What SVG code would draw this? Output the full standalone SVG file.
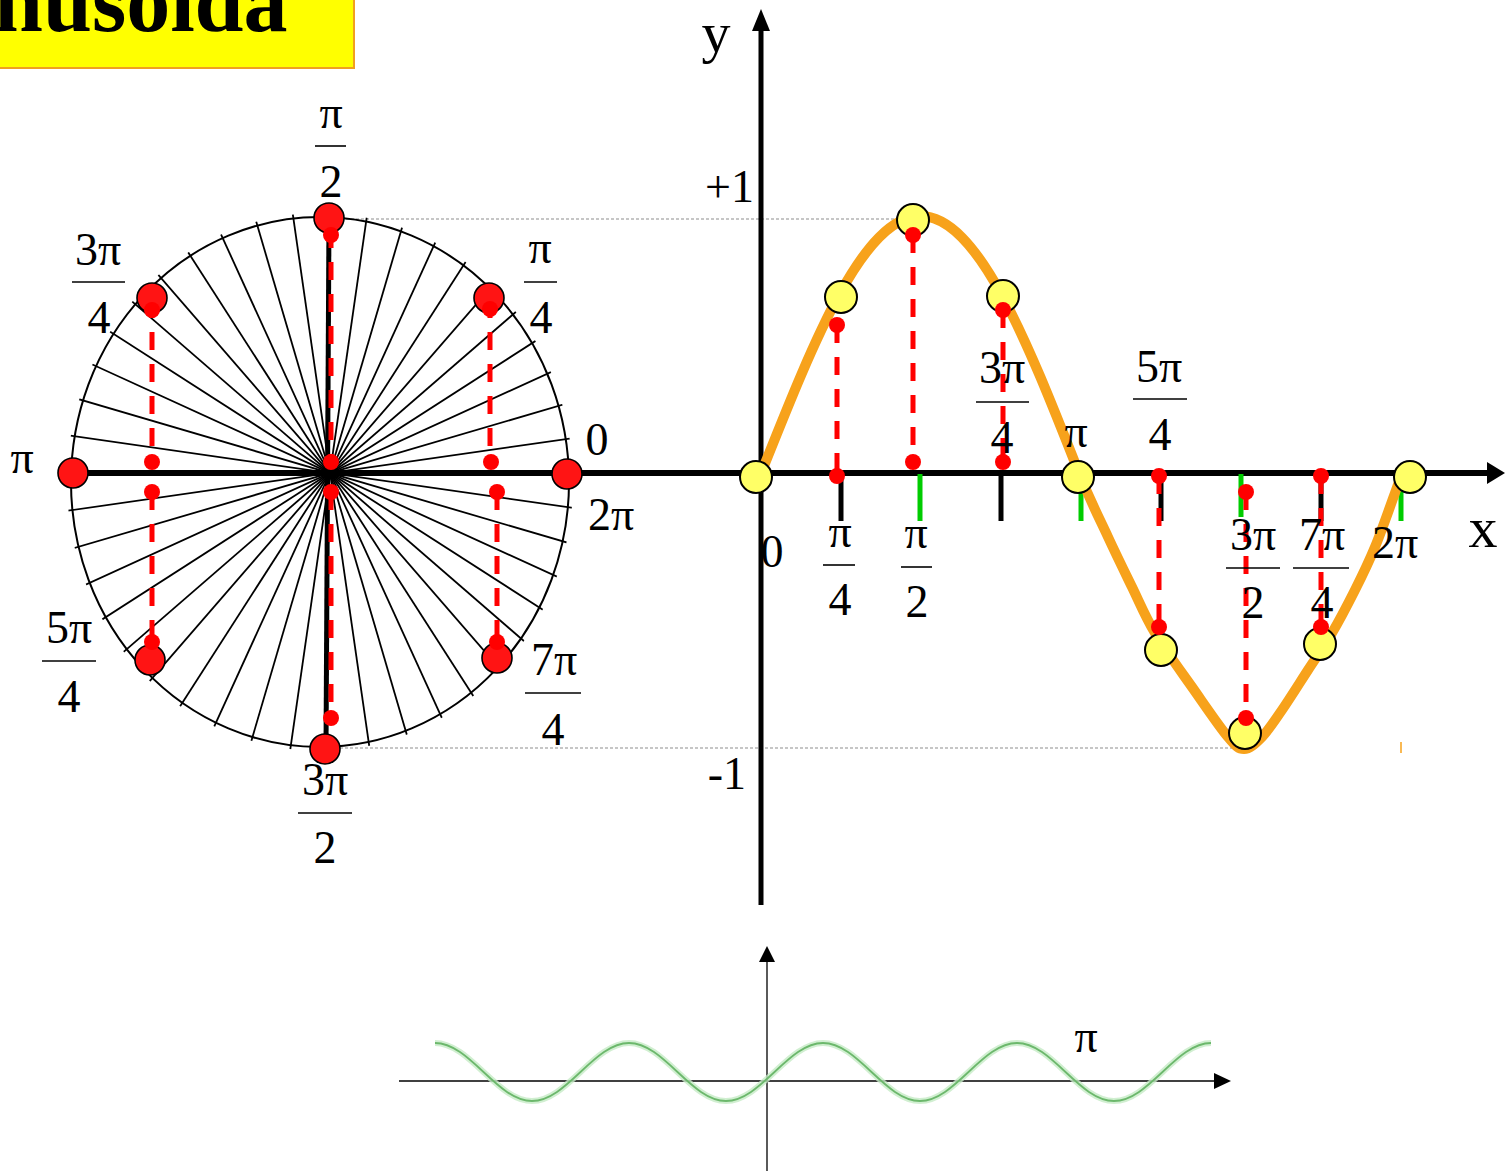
<svg xmlns="http://www.w3.org/2000/svg" width="1505" height="1171" viewBox="0 0 1505 1171">
<defs>
<style>
.t{font-family:"Liberation Serif","Times New Roman",serif;font-size:46px;fill:#000;text-anchor:middle}
.fl{stroke:#000;stroke-width:1.6}
.ray{stroke:#000;stroke-width:1.8}
.ax{stroke:#000;stroke-width:6;fill:none}
.rd{stroke:#ff0000;stroke-width:5;stroke-dasharray:18 14;fill:none}
.big{fill:#ff1414;stroke:#000;stroke-width:1.6}
.sm{fill:#ff0000}
.yd{fill:#ffff66;stroke:#000;stroke-width:2}
.gd{stroke:#b4b4b4;stroke-width:1.5;stroke-dasharray:3 2}
.tk{stroke:#000;stroke-width:5}
.tg{stroke:#00cc00;stroke-width:5}
</style>
<clipPath id="circClip"><ellipse cx="320" cy="482" rx="253" ry="269"/></clipPath>
</defs>
<rect width="1505" height="1171" fill="#fff"/>

<g id="title">
<rect x="-3" y="-4" width="357" height="72" fill="#ffff00" stroke="#f0a020" stroke-width="2"/>
<text x="-6" y="31" style="font-family:'Liberation Serif','Times New Roman',serif;font-size:88px;font-weight:bold" fill="#000">nusoida</text>
</g>

<g id="guides">
<line class="gd" x1="346" y1="219" x2="900" y2="219"/>
<line class="gd" x1="340" y1="748" x2="1232" y2="748"/>
</g>

<g id="unit-circle">
<g clip-path="url(#circClip)">
<g transform="translate(330,473)">
<line class="ray" x1="-320" x2="320" transform="rotate(8.18)"/>
<line class="ray" x1="-320" x2="320" transform="rotate(16.36)"/>
<line class="ray" x1="-320" x2="320" transform="rotate(24.55)"/>
<line class="ray" x1="-320" x2="320" transform="rotate(32.73)"/>
<line class="ray" x1="-320" x2="320" transform="rotate(40.91)"/>
<line class="ray" x1="-320" x2="320" transform="rotate(49.09)"/>
<line class="ray" x1="-320" x2="320" transform="rotate(57.27)"/>
<line class="ray" x1="-320" x2="320" transform="rotate(65.45)"/>
<line class="ray" x1="-320" x2="320" transform="rotate(73.64)"/>
<line class="ray" x1="-320" x2="320" transform="rotate(81.82)"/>
<line class="ray" x1="-320" x2="320" transform="rotate(98.18)"/>
<line class="ray" x1="-320" x2="320" transform="rotate(106.36)"/>
<line class="ray" x1="-320" x2="320" transform="rotate(114.55)"/>
<line class="ray" x1="-320" x2="320" transform="rotate(122.73)"/>
<line class="ray" x1="-320" x2="320" transform="rotate(130.91)"/>
<line class="ray" x1="-320" x2="320" transform="rotate(139.09)"/>
<line class="ray" x1="-320" x2="320" transform="rotate(147.27)"/>
<line class="ray" x1="-320" x2="320" transform="rotate(155.45)"/>
<line class="ray" x1="-320" x2="320" transform="rotate(163.64)"/>
<line class="ray" x1="-320" x2="320" transform="rotate(171.82)"/>
</g>
</g>
<ellipse cx="320" cy="482" rx="249" ry="265" fill="none" stroke="#000" stroke-width="2"/>
<line x1="329" y1="218" x2="326" y2="748" stroke="#000" stroke-width="5"/>
</g>

<g id="main-axes">
<line class="ax" x1="72" y1="473" x2="1492" y2="473"/>
<polygon points="1487,462 1505,473 1487,484" fill="#000"/>
<line x1="761" y1="905" x2="761" y2="28" stroke="#000" stroke-width="5"/>
<polygon points="752,31 761,9 770,31" fill="#000"/>
</g>

<g id="ticks">
<line class="tk" x1="841" y1="474" x2="841" y2="521"/>
<line class="tg" x1="920" y1="474" x2="920" y2="521"/>
<line class="tk" x1="1001" y1="474" x2="1001" y2="521"/>
<line class="tg" x1="1081" y1="474" x2="1081" y2="521"/>
<line class="tk" x1="1161" y1="474" x2="1161" y2="521"/>
<line class="tg" x1="1241" y1="474" x2="1241" y2="517"/>
<line class="tk" x1="1321" y1="474" x2="1321" y2="521"/>
<line class="tg" x1="1401" y1="474" x2="1401" y2="521"/>
</g>

<g id="sine-curve">
<path d="M762,471 C813.7,341.3 863.1,216 920.5,216 C977.9,216 1027.3,341.3 1079,473 C1092.5,505.7 1099.2,518 1108,537 C1116.8,556 1124.2,571 1132,587 C1139.8,603 1145,616.3 1155,633 C1165,649.7 1179.8,669.7 1192,687 C1204.2,704.3 1219.3,726.7 1228,737 C1236.7,747.3 1238.3,749 1244,749 C1249.7,749 1255.7,743.5 1262,737 C1268.3,730.5 1274.3,721.2 1282,710 C1289.7,698.8 1299.7,682.8 1308,670 C1316.3,657.2 1324.2,646.3 1332,633 C1339.8,619.7 1347.8,604.3 1355,590 C1362.2,575.7 1368.3,563.2 1375,547 C1381.7,530.8 1390,506.5 1395,493 C1399,482 1401,476 1403,470" fill="none" stroke="#f7a21b" stroke-width="10" stroke-linejoin="round" stroke-linecap="round"/>
<line x1="1401" y1="742" x2="1401" y2="753" stroke="#f7a21b" stroke-width="1.5"/>
</g>

<g id="connectors">
<line class="rd" x1="152" y1="300" x2="152" y2="462"/>
<line class="rd" x1="152" y1="492" x2="152" y2="645"/>
<line class="rd" x1="490" y1="300" x2="490" y2="462"/>
<line class="rd" x1="497" y1="492" x2="497" y2="645"/>
<line class="rd" x1="331" y1="230" x2="331" y2="462"/>
<line class="rd" x1="331" y1="492" x2="331" y2="718"/>
<line class="rd" x1="837" y1="325" x2="837" y2="476"/>
<line class="rd" x1="913" y1="235" x2="913" y2="462"/>
<line class="rd" x1="1003" y1="310" x2="1003" y2="462"/>
<line class="rd" x1="1159" y1="476" x2="1159" y2="627"/>
<line class="rd" x1="1246" y1="492" x2="1246" y2="718"/>
<line class="rd" x1="1321" y1="476" x2="1321" y2="627"/>
</g>

<g id="circle-points">
<circle class="big" cx="329" cy="218" r="15"/>
<circle class="big" cx="152" cy="298" r="15"/>
<circle class="big" cx="489" cy="298" r="15"/>
<circle class="big" cx="73" cy="473" r="15"/>
<circle class="big" cx="567" cy="474" r="15"/>
<circle class="big" cx="150" cy="660" r="15"/>
<circle class="big" cx="497" cy="658" r="15"/>
<circle class="big" cx="325" cy="749" r="15"/>
<circle class="sm" cx="331" cy="235" r="8"/>
<circle class="sm" cx="152" cy="310" r="8"/>
<circle class="sm" cx="490" cy="309" r="8"/>
<circle class="sm" cx="152" cy="462" r="8"/>
<circle class="sm" cx="331" cy="462" r="8"/>
<circle class="sm" cx="491" cy="462" r="8"/>
<circle class="sm" cx="152" cy="492" r="8"/>
<circle class="sm" cx="331" cy="492" r="8"/>
<circle class="sm" cx="497" cy="492" r="8"/>
<circle class="sm" cx="152" cy="642" r="8"/>
<circle class="sm" cx="497" cy="642" r="8"/>
<circle class="sm" cx="331" cy="718" r="8"/>
</g>

<g id="sine-points">
<circle class="yd" cx="756" cy="477" r="16"/>
<circle class="yd" cx="841" cy="297" r="16"/>
<circle class="yd" cx="913" cy="220" r="16"/>
<circle class="yd" cx="1003" cy="296" r="16"/>
<circle class="yd" cx="1078" cy="477" r="16"/>
<circle class="yd" cx="1161" cy="650" r="16"/>
<circle class="yd" cx="1245" cy="733" r="16"/>
<circle class="yd" cx="1320" cy="644" r="16"/>
<circle class="yd" cx="1410" cy="477" r="16"/>
<circle class="sm" cx="837" cy="325" r="8"/>
<circle class="sm" cx="837" cy="476" r="8"/>
<circle class="sm" cx="913" cy="235" r="8"/>
<circle class="sm" cx="913" cy="462" r="8"/>
<circle class="sm" cx="1003" cy="310" r="8"/>
<circle class="sm" cx="1003" cy="462" r="8"/>
<circle class="sm" cx="1159" cy="476" r="8"/>
<circle class="sm" cx="1159" cy="627" r="8"/>
<circle class="sm" cx="1246" cy="492" r="8"/>
<circle class="sm" cx="1246" cy="718" r="8"/>
<circle class="sm" cx="1321" cy="476" r="8"/>
<circle class="sm" cx="1321" cy="627" r="8"/>
</g>

<g id="circle-labels">
<g id="lbl-c-pi2"><text class="t" x="331" y="128">π</text><line class="fl" x1="315" y1="146" x2="346" y2="146"/><text class="t" x="331" y="197">2</text></g>
<g id="lbl-c-3pi4"><text class="t" x="98" y="265">3π</text><line class="fl" x1="72" y1="282" x2="125" y2="282"/><text class="t" x="99" y="333">4</text></g>
<g id="lbl-c-pi4"><text class="t" x="540" y="263">π</text><line class="fl" x1="524" y1="282" x2="557" y2="282"/><text class="t" x="541" y="333">4</text></g>
<g id="lbl-c-pi"><text class="t" x="22" y="473">π</text></g>
<g id="lbl-c-0"><text class="t" x="597" y="455">0</text></g>
<g id="lbl-c-2pi"><text class="t" x="611" y="530">2π</text></g>
<g id="lbl-c-5pi4"><text class="t" x="69" y="643">5π</text><line class="fl" x1="42" y1="661" x2="96" y2="661"/><text class="t" x="69" y="712">4</text></g>
<g id="lbl-c-7pi4"><text class="t" x="554" y="675">7π</text><line class="fl" x1="525" y1="693" x2="581" y2="693"/><text class="t" x="553" y="745">4</text></g>
<g id="lbl-c-3pi2"><text class="t" x="325" y="795">3π</text><line class="fl" x1="298" y1="813" x2="352" y2="813"/><text class="t" x="325" y="863">2</text></g>
</g>

<g id="graph-labels">
<g id="lbl-y"><text class="t" x="716" y="52" style="font-size:58px">y</text></g>
<g id="lbl-x"><text class="t" x="1483" y="547" style="font-size:58px">x</text></g>
<g id="lbl-p1"><text class="t" x="754" y="202" style="text-anchor:end">+1</text></g>
<g id="lbl-m1"><text class="t" x="746" y="789" style="text-anchor:end">-1</text></g>
<g id="lbl-s-0"><text class="t" x="772" y="567">0</text></g>
<g id="lbl-s-pi4"><text class="t" x="840" y="547">π</text><line class="fl" x1="823" y1="565" x2="855" y2="565"/><text class="t" x="840" y="615">4</text></g>
<g id="lbl-s-pi2"><text class="t" x="916" y="548">π</text><line class="fl" x1="901" y1="567" x2="932" y2="567"/><text class="t" x="917" y="617">2</text></g>
<g id="lbl-s-3pi4"><text class="t" x="1002" y="383">3π</text><line class="fl" x1="976" y1="402" x2="1029" y2="402"/><text class="t" x="1002" y="453">4</text></g>
<g id="lbl-s-pi"><text class="t" x="1076" y="447">π</text></g>
<g id="lbl-s-5pi4"><text class="t" x="1159" y="382">5π</text><line class="fl" x1="1133" y1="399" x2="1187" y2="399"/><text class="t" x="1160" y="450">4</text></g>
<g id="lbl-s-3pi2"><text class="t" x="1253" y="550">3π</text><line class="fl" x1="1226" y1="568" x2="1280" y2="568"/><text class="t" x="1253" y="618">2</text></g>
<g id="lbl-s-7pi4"><text class="t" x="1322" y="550">7π</text><line class="fl" x1="1293" y1="568" x2="1349" y2="568"/><text class="t" x="1322" y="618">4</text></g>
<g id="lbl-s-2pi"><text class="t" x="1395" y="558">2π</text></g>
</g>

<g id="small-graph">
<line x1="399" y1="1081" x2="1216" y2="1081" stroke="#000" stroke-width="1.3"/>
<polygon points="1214,1073 1231,1081 1214,1089" fill="#000"/>
<line x1="767" y1="1171" x2="767" y2="960" stroke="#000" stroke-width="1.3"/>
<polygon points="759,962 767,946 775,962" fill="#000"/>
<path d="M435,1043 C470,1043 497,1101 532,1101 S594,1043 629,1043 S691,1101 726,1101 S788,1043 823,1043 S885,1101 920,1101 S982,1043 1017,1043 S1079,1101 1114,1101 S1176,1043 1211,1043" fill="none" stroke="#c6ebc6" stroke-width="6" opacity="0.8"/>
<path d="M435,1043 C470,1043 497,1101 532,1101 S594,1043 629,1043 S691,1101 726,1101 S788,1043 823,1043 S885,1101 920,1101 S982,1043 1017,1043 S1079,1101 1114,1101 S1176,1043 1211,1043" fill="none" stroke="#6cb86c" stroke-width="1.8"/>
<text class="t" x="1086" y="1052">π</text>
</g>
</svg>
